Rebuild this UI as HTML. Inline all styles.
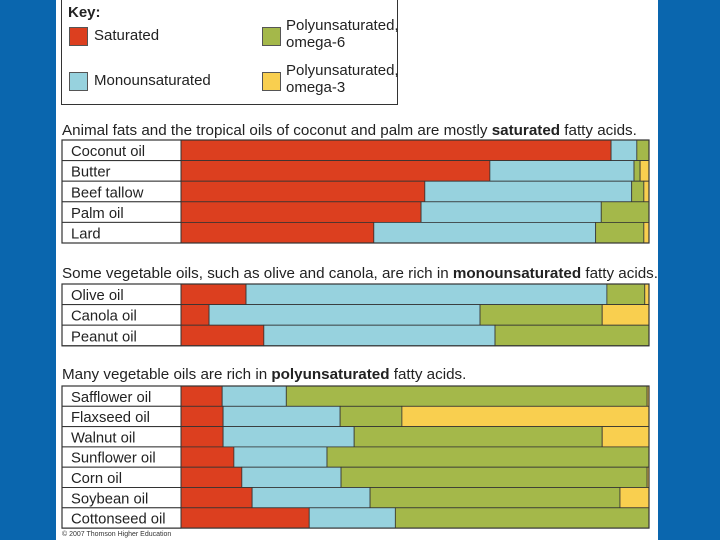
<!DOCTYPE html>
<html><head><meta charset="utf-8"><style>
body{margin:0;width:720px;height:540px;background:#0a66ae;position:relative;overflow:hidden;font-family:"Liberation Sans",sans-serif}
#panel{position:absolute;left:56px;top:0;width:602px;height:540px;background:#fff}
.t{position:absolute;color:#222;white-space:nowrap}
</style></head><body>
<div id="panel"></div>
<div style="position:absolute;left:61px;top:-1px;width:335px;height:104px;border:1px solid #333;background:#fff">
 <div class="t" style="left:6px;top:4px;font-size:15px;font-weight:bold">Key:</div>
 <div style="position:absolute;left:7px;top:27px;width:17px;height:17px;background:#dc3f1f;border:1px solid #555"></div>
 <div class="t" style="left:32px;top:27px;font-size:15px">Saturated</div>
 <div style="position:absolute;left:7px;top:72px;width:17px;height:17px;background:#97d2de;border:1px solid #555"></div>
 <div class="t" style="left:32px;top:72px;font-size:15px">Monounsaturated</div>
 <div style="position:absolute;left:200px;top:27px;width:17px;height:17px;background:#a4b84a;border:1px solid #555"></div>
 <div class="t" style="left:224px;top:17px;font-size:15px;line-height:17px">Polyunsaturated,<br>omega-6</div>
 <div style="position:absolute;left:200px;top:72px;width:17px;height:17px;background:#f9cf4f;border:1px solid #555"></div>
 <div class="t" style="left:224px;top:62px;font-size:15px;line-height:17px">Polyunsaturated,<br>omega-3</div>
</div>
<svg id="chart" width="720" height="540" style="position:absolute;left:0;top:0"></svg>
<div class="t" style="left:62px;top:531px;font-size:7px;color:#333">© 2007 Thomson Higher Education</div>
<script>
const oils=["Coconut oil","Butter","Beef tallow","Palm oil","Lard","Olive oil","Canola oil","Peanut oil","Safflower oil","Flaxseed oil","Walnut oil","Sunflower oil","Corn oil","Soybean oil","Cottonseed oil"];
const saturated=[91.9,66,52.1,51.3,41.2,13.9,6,17.7,8.8,9,9,11.3,13,15.2,27.4];
const mono=[5.5,30.8,44.2,38.5,47.4,77.1,57.9,49.4,13.7,25,28,19.9,21.2,25.2,18.4];
const omega6=[2.6,1.3,2.6,10.2,10.3,8.1,26.1,32.9,77.1,13.2,53,68.8,65.4,53.4,54.2];
const omega3=[0,1.9,1.1,0,1.1,0.9,10,0,0.4,52.8,10,0,0.4,6.2,0];
const groupTitles=[["Animal fats and the tropical oils of coconut and palm are mostly ","saturated"," fatty acids."],["Some vegetable oils, such as olive and canola, are rich in ","monounsaturated"," fatty acids."],["Many vegetable oils are rich in ","polyunsaturated"," fatty acids."]];
const groupSizes=[5,3,7];
const NS="http://www.w3.org/2000/svg";
const svg=document.getElementById('chart');
const x0=181,x1=649,lx=62;
const xs=v=>x0+(x1-x0)*v/100;
const groupTop=[140,284,386];
const rowH=[20.6,20.6,20.3];
const titleY=[135,278,379];
const colors=["#dc3f1f","#97d2de","#a4b84a","#f9cf4f"];
const series=[saturated,mono,omega6,omega3];
const snames=["saturated","mono","omega6","omega3"];
function mk(tag,attrs){const e=document.createElementNS(NS,tag);for(const k in attrs)e.setAttribute(k,attrs[k]);svg.appendChild(e);return e;}
let idx=0;
groupSizes.forEach((n,g)=>{
 const t=mk('text',{x:lx,y:titleY[g],'font-size':15.2,fill:'#222','font-family':'Liberation Sans, sans-serif'});
 
 
 groupTitles[g].forEach((s,i)=>{const sp=document.createElementNS(NS,'tspan');sp.textContent=s;if(i==1)sp.setAttribute('font-weight','bold');t.appendChild(sp);});
 for(let r=0;r<n;r++,idx++){
  const y=groupTop[g]+r*rowH[g],h=rowH[g];
  let acc=0;
  series.forEach((s,si)=>{
   const v=s[idx];if(v<=0){return;}
   const rc=mk('rect',{x:xs(acc),y:y,width:xs(acc+v)-xs(acc),height:h,fill:colors[si],stroke:'#333','stroke-width':0.8});
   
   
   acc+=v;
  });
  const lb=mk('rect',{x:lx,y:y,width:x0-lx,height:h,fill:'#fff',stroke:'#333','stroke-width':1});
  
  
  const tx=mk('text',{x:lx+9,y:y+h-4.5,'font-size':14.8,fill:'#222','font-family':'Liberation Sans, sans-serif'});
  tx.textContent=oils[idx];
  
  
 }
 const fr=mk('rect',{x:lx,y:groupTop[g],width:x1-lx,height:n*rowH[g],fill:'none',stroke:'#333','stroke-width':1.2});
 
 
});
</script>
</body></html>
